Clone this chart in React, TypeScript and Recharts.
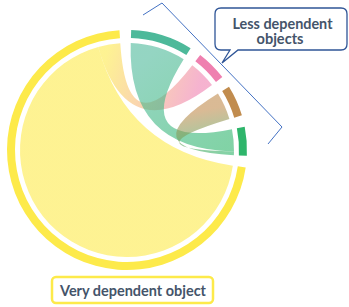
import { PieChart, Pie, Cell, Customized } from "recharts";

// ring segments, clockwise from the top
const objects = ["Object A", "Object B", "Object C", "Object D", "Main object"];
const arcSizes = [30, 15, 15, 14, 258];
const arcColors = ["#4DB99A", "#EF80B0", "#C18C4E", "#2EB56B", "#FDEA4A"];

// links between segments (size taken at each end)
const flowFrom = [4, 4, 0, 2];
const flowTo = [4, 1, 3, 3];
const fromSize = [246, 12, 30, 15];
const toSize = [0, 15, 12, 2];

const calloutTop = ["Less dependent", "objects"];
const calloutBottom = "Very dependent object";

const W = 349;
const H = 307;
const CX = 127;
const CY = 150;
const START = 2; // degrees clockwise from 12 o'clock
const PAD = 5.6;
const R_IN = 112;
const R_OUT = 120;
const R_LINK = 107;

const pieData = objects.map((name, i) => ({ name, value: arcSizes[i] }));

function pt(r: number, deg: number) {
  const a = (deg * Math.PI) / 180;
  return [CX + r * Math.sin(a), CY - r * Math.cos(a)];
}

function layout() {
  const total = arcSizes.reduce((a, b) => a + b, 0);
  const k = (360 - PAD * arcSizes.length) / total;
  const starts: number[] = [];
  let a = START;
  arcSizes.forEach((v) => {
    starts.push(a);
    a += v * k + PAD;
  });
  const cursor = [...starts];
  return flowFrom.map((f, i) => {
    const s0 = cursor[f];
    cursor[f] += fromSize[i] * k;
    const s1 = cursor[f];
    const t = flowTo[i];
    const t0 = cursor[t];
    cursor[t] += toSize[i] * k;
    const t1 = cursor[t];
    return { s0, s1, t0, t1 };
  });
}

function arcTo(r: number, a0: number, a1: number) {
  const [x, y] = pt(r, a1);
  return `A ${r} ${r} 0 ${a1 - a0 > 180 ? 1 : 0} 1 ${x} ${y}`;
}

function Ribbons() {
  const ends = layout();
  return (
    <g>
      <defs>
        {ends.map((e, i) => {
          const [x1, y1] = pt(R_LINK, (e.s0 + e.s1) / 2);
          const self = flowFrom[i] === flowTo[i];
          const [x2, y2] = self ? [CX, CY] : pt(R_LINK, (e.t0 + e.t1) / 2);
          return (
            <linearGradient key={i} id={`rib${i}`} gradientUnits="userSpaceOnUse" x1={x1} y1={y1} x2={x2} y2={y2}>
              <stop offset="0%" stopColor={arcColors[flowFrom[i]]} />
              <stop offset="100%" stopColor={arcColors[flowTo[i]]} />
            </linearGradient>
          );
        })}
      </defs>
      {ends.map((e, i) => {
        const [sx, sy] = pt(R_LINK, e.s0);
        let d: string;
        if (flowFrom[i] === flowTo[i]) {
          d = `M ${sx} ${sy} ${arcTo(R_LINK, e.s0, e.s1)} Q ${CX} ${CY} ${sx} ${sy} Z`;
        } else {
          const [tx, ty] = pt(R_LINK, e.t0);
          d =
            `M ${sx} ${sy} ${arcTo(R_LINK, e.s0, e.s1)} Q ${CX} ${CY} ${tx} ${ty} ` +
            `${arcTo(R_LINK, e.t0, e.t1)} Q ${CX} ${CY} ${sx} ${sy} Z`;
        }
        return <path key={i} d={d} fill={`url(#rib${i})`} fillOpacity={0.6} />;
      })}
    </g>
  );
}

function Notes() {
  const font = "Lato, 'Open Sans', sans-serif";
  const txt = { fontFamily: font, fontWeight: 700, fontSize: 16, fill: "#44546A", lengthAdjust: "spacingAndGlyphs" as const };
  return (
    <g>
      <polyline points="143,15 162,3 282,127 268,144" fill="none" stroke="#4472C4" strokeWidth={1} />
      <path
        d="M 221 8 H 341 Q 347 8 347 14 V 44 Q 347 50 341 50 H 238 L 222 63 L 230 50 H 221 Q 215 50 215 44 V 14 Q 215 8 221 8 Z"
        fill="#fff"
        stroke="#2F5597"
        strokeWidth={1.3}
      />
      <text x={232.5} y={28.7} textLength={100} {...txt}>
        {calloutTop[0]}
      </text>
      <text x={256.5} y={44} textLength={47} {...txt}>
        {calloutTop[1]}
      </text>
      <rect x={52} y={277} width={161} height={26} rx={4} fill="#fff" stroke="#FDEA4A" strokeWidth={2.5} />
      <text x={60} y={295.7} textLength={146} {...txt}>
        {calloutBottom}
      </text>
    </g>
  );
}

export default function App() {
  return (
    <div style={{ position: "absolute", left: 0, top: 0, width: W, height: H, background: "#fff" }}>
      <PieChart width={W} height={H} margin={{ top: 0, right: 0, bottom: 0, left: 0 }}>
        <Customized component={Ribbons} />
        <Pie
          data={pieData}
          dataKey="value"
          nameKey="name"
          cx={CX}
          cy={CY}
          innerRadius={R_IN}
          outerRadius={R_OUT}
          startAngle={90 - START}
          endAngle={90 - START - 360}
          paddingAngle={PAD}
          stroke="none"
          isAnimationActive={false}
        >
          {pieData.map((d, i) => (
            <Cell key={d.name} fill={arcColors[i]} />
          ))}
        </Pie>
        <Customized component={Notes} />
      </PieChart>
    </div>
  );
}
